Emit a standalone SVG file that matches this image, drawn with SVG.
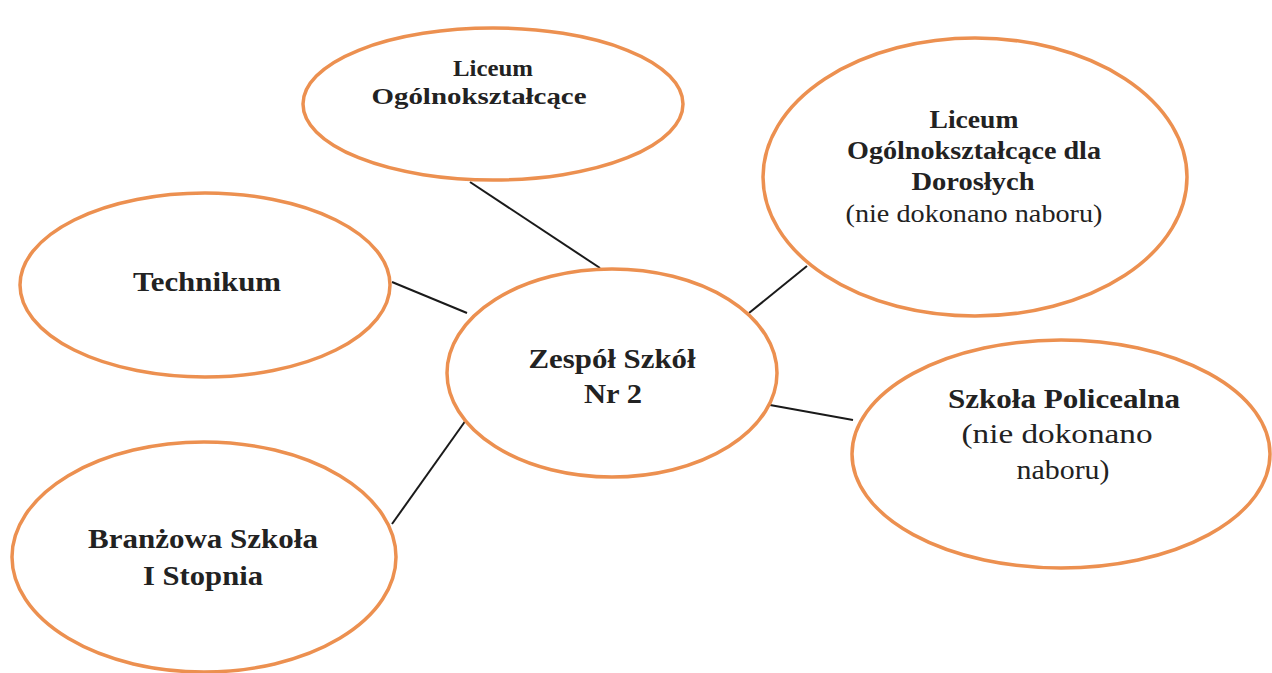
<svg xmlns="http://www.w3.org/2000/svg" width="1272" height="673" viewBox="0 0 1272 673">
<style>
.n{fill:#fff;stroke:#EC9050;stroke-width:3.5}
.c{stroke:#1a1a1a;stroke-width:2;fill:none}
text{font-family:"Liberation Serif","Times New Roman","DejaVu Serif",serif;fill:#222;text-anchor:middle}
.b{font-weight:bold}
</style>
<rect width="1272" height="673" fill="#fff"/>
<g id="connectors">
<line class="c" x1="470" y1="182" x2="600" y2="268"/>
<line class="c" x1="392" y1="282" x2="467" y2="313"/>
<line class="c" x1="807" y1="266" x2="749" y2="313"/>
<line class="c" x1="770" y1="405" x2="853" y2="420"/>
<line class="c" x1="466" y1="420" x2="392" y2="524"/>
</g>
<g id="lo">
<ellipse class="n" cx="493" cy="104" rx="190" ry="76"/>
<text class="b" font-size="24" x="493" y="76" textLength="80" lengthAdjust="spacingAndGlyphs">Liceum</text>
<text class="b" font-size="24" x="479" y="104" textLength="215" lengthAdjust="spacingAndGlyphs">Ogólnokształcące</text>
</g>
<g id="lod">
<ellipse class="n" cx="975" cy="177" rx="212" ry="139"/>
<text class="b" font-size="26" x="974" y="128" textLength="89" lengthAdjust="spacingAndGlyphs">Liceum</text>
<text class="b" font-size="26" x="974" y="159" textLength="254" lengthAdjust="spacingAndGlyphs">Ogólnokształcące dla</text>
<text class="b" font-size="26" x="973" y="190" textLength="123" lengthAdjust="spacingAndGlyphs">Dorosłych</text>
<text font-size="26" x="974" y="222" textLength="257" lengthAdjust="spacingAndGlyphs">(nie dokonano naboru)</text>
</g>
<g id="technikum">
<ellipse class="n" cx="205" cy="285" rx="185" ry="92"/>
<text class="b" font-size="27" x="207" y="291" textLength="148" lengthAdjust="spacingAndGlyphs">Technikum</text>
</g>
<g id="zs">
<ellipse class="n" cx="612" cy="373" rx="165" ry="104"/>
<text class="b" font-size="28" x="612" y="368" textLength="167" lengthAdjust="spacingAndGlyphs">Zespół Szkół</text>
<text class="b" font-size="28" x="613" y="403" textLength="58" lengthAdjust="spacingAndGlyphs">Nr 2</text>
</g>
<g id="branzowa">
<ellipse class="n" cx="204" cy="557" rx="192" ry="115"/>
<text class="b" font-size="27" x="203" y="548" textLength="230" lengthAdjust="spacingAndGlyphs">Branżowa Szkoła</text>
<text class="b" font-size="27" x="203" y="585" textLength="120" lengthAdjust="spacingAndGlyphs">I Stopnia</text>
</g>
<g id="policealna">
<ellipse class="n" cx="1061" cy="454" rx="209" ry="114"/>
<text class="b" font-size="27" x="1064" y="408" textLength="232" lengthAdjust="spacingAndGlyphs">Szkoła Policealna</text>
<text font-size="27" x="1057" y="443" textLength="191" lengthAdjust="spacingAndGlyphs">(nie dokonano</text>
<text font-size="27" x="1063" y="479" textLength="93" lengthAdjust="spacingAndGlyphs">naboru)</text>
</g>
</svg>
